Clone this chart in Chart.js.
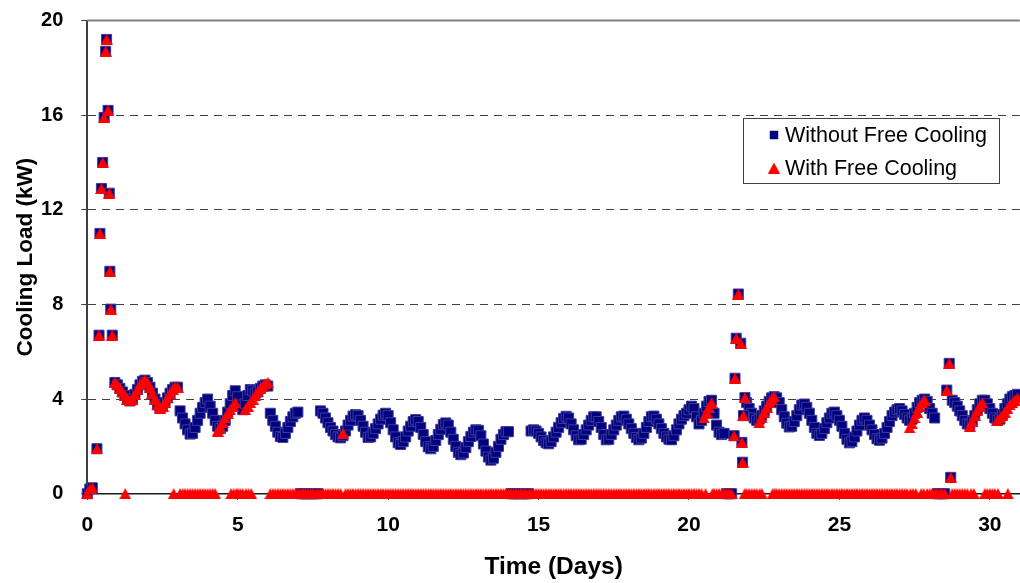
<!DOCTYPE html>
<html>
<head>
<meta charset="utf-8">
<script src="https://cdn.jsdelivr.net/npm/chart.js@4.4.1/dist/chart.umd.min.js"></script>
<style>
  html, body { margin: 0; padding: 0; background: #fff; overflow: hidden; }
  canvas { display: block; }
</style>
</head>
<body>
<canvas id="chart" width="1028" height="583"></canvas>
<script>
// ─── cooling load, 2-hourly samples from day 0 (null = no reading) ───
const STEP_DAYS = 1 / 12;

const withoutFreeCooling = [
  0, 0.2, 0.25, null, null, null, null, null, null, null, null, 4.7,           // day 0
  4.6, 4.45, 4.3, 4.15, 4.0, 3.92, 4.0, 4.2, 4.4, 4.6, 4.75, 4.8,               // 1
  4.7, 4.5, 4.25, 4.0, 3.75, 3.62, 3.7, 3.85, 4.05, 4.25, 4.4, 4.5,             // 2
  4.5, 3.5, 3.2, 2.95, 2.7, 2.52, 2.55, 2.8, 3.1, 3.4, 3.65, 3.85,              // 3
  4.0, 3.7, 3.4, 3.1, 2.85, 2.75, 2.85, 3.1, 3.45, 3.8, 4.15, 4.35,             // 4
  4.1, 3.75, 3.55, 3.8, 4.15, 4.4, 4.35, 4.25, 4.3, 4.45, 4.55, 4.6,            // 5
  4.55, 3.4, 3.1, 2.85, 2.6, 2.42, 2.38, 2.55, 2.8, 3.05, 3.25, 3.4,            // 6
  3.45, 0, 0, 0, 0, 0, 0, 0, 0, 3.5, 3.4, 3.2,                                  // 7
  3.0, 2.8, 2.65, 2.5, 2.4, 2.36, 2.45, 2.65, 2.9, 3.1, 3.28, 3.34,             // 8
  3.3, 3.1, 2.85, 2.6, 2.38, 2.4, 2.55, 2.75, 2.95, 3.15, 3.32, 3.4,            // 9
  3.3, 3.0, 2.7, 2.4, 2.15, 2.08, 2.2, 2.4, 2.65, 2.85, 3.05, 3.13,             // 10
  3.05, 2.8, 2.5, 2.2, 1.98, 1.9, 2.0, 2.25, 2.5, 2.72, 2.92, 2.99,             // 11
  2.9, 2.6, 2.3, 2.0, 1.75, 1.65, 1.72, 1.95, 2.2, 2.42, 2.6, 2.7,              // 12
  2.68, 2.45, 2.1, 1.8, 1.55, 1.42, 1.5, 1.75, 2.0, 2.3, 2.5, 2.62,             // 13
  2.62, 0, 0, 0, 0, 0, 0, 0, 0, 2.65, 2.7, 2.65,                                // 14
  2.55, 2.4, 2.25, 2.15, 2.11, 2.2, 2.4, 2.6, 2.8, 3.0, 3.18, 3.27,             // 15
  3.2, 2.95, 2.7, 2.45, 2.28, 2.3, 2.5, 2.7, 2.9, 3.1, 3.25, 3.25,              // 16
  3.05, 2.8, 2.5, 2.28, 2.3, 2.5, 2.7, 2.9, 3.1, 3.25, 3.28, 3.15,              // 17
  2.95, 2.75, 2.55, 2.38, 2.28, 2.35, 2.55, 2.8, 3.05, 3.25, 3.28, 3.15,        // 18
  2.95, 2.75, 2.55, 2.4, 2.3, 2.28, 2.45, 2.7, 2.95, 3.15, 3.3, 3.4,            // 19
  3.55, 3.7, 3.6, 3.25, 2.95, 3.1, 3.4, 3.7, 3.9, 3.95, 3.4, 2.9,               // 20
  2.6, 2.5, 2.55, 0, 0, 0, null, null, null, null, null, 3.85,                  // 21
  3.6, 3.4, 3.2, 3.1, 3.15, 3.3, 3.5, 3.7, 3.9, 4.05, 4.1, 4.05,                // 22
  3.85, 3.55, 3.25, 2.98, 2.82, 2.85, 3.05, 3.3, 3.55, 3.75, 3.79, 3.65,        // 23
  3.4, 3.1, 2.8, 2.55, 2.46, 2.55, 2.75, 3.0, 3.2, 3.4, 3.45, 3.3,              // 24
  3.1, 2.85, 2.55, 2.3, 2.15, 2.2, 2.4, 2.65, 2.9, 3.1, 3.2, 3.1,               // 25
  2.9, 2.7, 2.5, 2.32, 2.26, 2.35, 2.55, 2.8, 3.05, 3.3, 3.45, 3.55,            // 26
  3.6, 3.5, 3.35, 3.2, 3.1, 3.15, 3.4, 3.65, 3.85, 3.95, 4.0, 3.9,              // 27
  3.6, 3.4, 3.2, 0, 0, 0, 0, null, null, 3.95, 3.85, 3.7,                       // 28
  3.5, 3.3, 3.1, 2.95, 2.92, 3.05, 3.3, 3.55, 3.8, 3.95, 3.95, 3.8,             // 29
  3.6, 3.4, 3.2, 3.1, 3.15, 3.35, 3.6, 3.8, 4.0, 4.1, 4.15, 4.2                 // 30
];

const withFreeCooling = [
  0, 0.2, 0.25, null, null, null, null, null, null, null, null, 4.7,           // day 0
  4.6, 4.45, 4.3, 4.15, 4.0, 3.92, 4.0, 4.2, 4.4, 4.6, 4.75, 4.8,               // 1
  4.7, 4.5, 4.25, 4.0, 3.75, 3.62, 3.7, 3.85, 4.05, 4.25, 4.4, 4.5,             // 2
  4.5, 0, 0, 0, 0, 0, 0, 0, 0, 0, 0, 0,                                         // 3
  0, 0, 0, 0, 2.65, 2.8, 3.0, 3.2, 3.4, 3.55, 3.7, 3.85,                        // 4
  0, 0, 0, 3.55, 3.7, 3.85, 4.0, 4.15, 4.3, 4.45, 4.55, 4.65,                   // 5
  4.7, 0, 0, 0, 0, 0, 0, 0, 0, 0, 0, 0,                                         // 6
  0, 0, 0, 0, 0, 0, 0, 0, 0, 0, 0, 0,                                           // 7
  0, 0, 0, 0, 0, 0, 2.55, 0, 0, 0, 0, 0,                                        // 8
  0, 0, 0, 0, 0, 0, 0, 0, 0, 0, 0, 0,                                           // 9
  0, 0, 0, 0, 0, 0, 0, 0, 0, 0, 0, 0,                                           // 10
  0, 0, 0, 0, 0, 0, 0, 0, 0, 0, 0, 0,                                           // 11
  0, 0, 0, 0, 0, 0, 0, 0, 0, 0, 0, 0,                                           // 12
  0, 0, 0, 0, 0, 0, 0, 0, 0, 0, 0, 0,                                           // 13
  0, 0, 0, 0, 0, 0, 0, 0, 0, 0, 0, 0,                                           // 14
  0, 0, 0, 0, 0, 0, 0, 0, 0, 0, 0, 0,                                           // 15
  0, 0, 0, 0, 0, 0, 0, 0, 0, 0, 0, 0,                                           // 16
  0, 0, 0, 0, 0, 0, 0, 0, 0, 0, 0, 0,                                           // 17
  0, 0, 0, 0, 0, 0, 0, 0, 0, 0, 0, 0,                                           // 18
  0, 0, 0, 0, 0, 0, 0, 0, 0, 0, 0, 0,                                           // 19
  0, 0, 0, 0, 0, 0, 3.2, 3.45, 3.65, 3.85, 0, 0,                                // 20
  0, 0, 0, 0, 0, 0, null, null, null, null, null, 0,                            // 21
  0, 0, 0, 0, 3.0, 3.2, 3.45, 3.65, 3.85, 4.0, 4.1, 0,                          // 22
  0, 0, 0, 0, 0, 0, 0, 0, 0, 0, 0, 0,                                           // 23
  0, 0, 0, 0, 0, 0, 0, 0, 0, 0, 0, 0,                                           // 24
  0, 0, 0, 0, 0, 0, 0, 0, 0, 0, 0, 0,                                           // 25
  0, 0, 0, 0, 0, 0, 0, 0, 0, 0, 0, 0,                                           // 26
  0, 0, 0, 0, 2.78, 2.95, 3.2, 3.45, 3.7, 3.85, 3.95, 0,                        // 27
  0, 0, 0, 0, 0, 0, 0, null, null, 0, 0, 0,                                     // 28
  0, 0, 0, 0, 2.85, 3.05, 3.3, 3.5, 3.7, 3.85, 0, 0,                            // 29
  0, 0, 0, 3.1, 3.2, 3.3, 3.45, 3.6, 3.75, 3.85, 3.95, 4.05                     // 30
];

// hourly readings through the start-up peaks (both runs agree here)
const peakDays = [
  0.32, 0.39, 0.42, 0.47, 0.51, 0.56, 0.61, 0.64, 0.69, 0.73, 0.75, 0.78, 0.83,
  21.50, 21.53, 21.57, 21.64, 21.72, 21.76, 21.78, 21.81, 21.86,
  28.57, 28.65, 28.70
];
const peakWithout = [
  1.9, 6.7, 11.0, 12.9, 14.0, 15.9, 18.7, 19.2, 16.2, 12.7, 9.4, 7.8, 6.7,
  2.45, 4.88, 6.57, 8.44, 6.36, 2.17, 1.33, 3.3, 4.06,
  4.38, 5.51, 0.69
];
const peakWith = [
  1.9, 6.7, 11.0, 12.9, 14.0, 15.9, 18.7, 19.2, 16.2, 12.7, 9.4, 7.8, 6.7,
  2.45, 4.88, 6.57, 8.44, 6.36, 2.17, 1.33, 3.3, 4.06,
  4.38, 5.51, 0.69
];

// free-cooling hours (zero load) that fall between the 2-hourly samples
const freeCoolOffDays = [
  1.26, 2.87, 4.78, 4.86, 4.95, 5.27, 5.36, 5.45, 20.55, 20.78, 21.85, 22.35,
  22.42, 22.78, 22.85, 27.36, 27.45, 27.54, 27.72, 27.8, 29.38, 29.47, 30.27, 30.6
];
const freeCoolOffLoad = [
  0, 0, 0, 0, 0, 0, 0, 0, 0, 0, 0, 0,
  0, 0, 0, 0, 0, 0, 0, 0, 0, 0, 0, 0
];

const yTicks = [0, 4, 8, 12, 16, 20];

// ─── helpers ───

function gridPoints(values) {
  const pts = [];
  values.forEach((v, i) => {
    if (v !== null) pts.push({ x: i * STEP_DAYS, y: v });
  });
  return pts;
}

function pairPoints(days, loads) {
  return days.map((d, i) => ({ x: d, y: loads[i] }));
}

// triangle marker centred on its bounding box
function triangleMarker(w, h, color) {
  const c = document.createElement('canvas');
  c.width = w;
  c.height = h;
  const g = c.getContext('2d');
  g.fillStyle = color;
  g.beginPath();
  g.moveTo(w / 2, 0);
  g.lineTo(w, h);
  g.lineTo(0, h);
  g.closePath();
  g.fill();
  return c;
}

const FONT = "'Liberation Sans', Arial, Helvetica, sans-serif";
const NAVY = '#000080';
const RED = '#FF0000';
const redTriangle = triangleMarker(12, 11, RED);

// solid grey line across the top of the plot
const frameTop = {
  id: 'frameTop',
  beforeDatasetsDraw(chart) {
    const { ctx, chartArea: a } = chart;
    ctx.save();
    ctx.strokeStyle = '#808080';
    ctx.lineWidth = 2;
    ctx.beginPath();
    ctx.moveTo(a.left, a.top);
    ctx.lineTo(a.right, a.top);
    ctx.stroke();
    ctx.restore();
  },
};

// boxed legend inside the plot area
const boxedLegend = {
  id: 'boxedLegend',
  afterDraw(chart) {
    const { ctx } = chart;
    const box = { x: 743, y: 118, w: 256, h: 65 };
    ctx.save();
    ctx.fillStyle = '#fff';
    ctx.fillRect(box.x, box.y, box.w, box.h);
    ctx.strokeStyle = '#404040';
    ctx.lineWidth = 1;
    ctx.strokeRect(box.x + 0.5, box.y + 0.5, box.w, box.h);

    ctx.font = `21.5px ${FONT}`;
    ctx.textBaseline = 'middle';
    ctx.textAlign = 'left';
    [0, 1].forEach((di, row) => {
      const ds = chart.data.datasets[di];
      const cy = box.y + 17 + row * 33;
      ctx.fillStyle = ds.backgroundColor;
      ctx.strokeStyle = ds.borderColor;
      Chart.helpers.drawPoint(ctx, { pointStyle: ds.pointStyle, radius: 6, borderWidth: 0, rotation: 0 }, 774, cy);
      ctx.fillStyle = '#000';
      ctx.fillText(ds.label, 785, cy + 1);
    });
    ctx.restore();
  },
};

new Chart(document.getElementById('chart'), {
  type: 'scatter',
  data: {
    datasets: [
      {
        label: 'Without Free Cooling',
        data: gridPoints(withoutFreeCooling).concat(pairPoints(peakDays, peakWithout)),
        pointStyle: 'rect',
        pointRadius: 7.1,
        backgroundColor: NAVY,
        borderColor: '#3c3c98',
        borderWidth: 1,
        order: 2,
        clip: false,
      },
      {
        label: 'With Free Cooling',
        data: gridPoints(withFreeCooling)
          .concat(pairPoints(peakDays, peakWith))
          .concat(pairPoints(freeCoolOffDays, freeCoolOffLoad)),
        pointStyle: redTriangle,
        pointRadius: 6,
        backgroundColor: RED,
        borderColor: RED,
        borderWidth: 0,
        order: 1,
        clip: false,
      },
    ],
  },
  options: {
    responsive: false,
    animation: false,
    events: [],
    layout: { padding: { top: 20.5, right: 1, bottom: 0, left: 0 } },
    plugins: { legend: { display: false }, tooltip: { enabled: false } },
    scales: {
      x: {
        type: 'linear',
        min: 0,
        max: 31,
        afterFit: (s) => { s.height = 89.3; },
        border: { color: '#1a1a1a', width: 1.5 },
        grid: { drawOnChartArea: false, tickLength: 6, tickColor: '#1a1a1a' },
        ticks: {
          stepSize: 5,
          includeBounds: false,
          maxRotation: 0,
          color: '#000',
          padding: 13,
          font: { family: FONT, size: 21, weight: 'bold' },
        },
        title: {
          display: true,
          text: 'Time (Days)',
          color: '#000',
          font: { family: FONT, size: 24.5, weight: 'bold' },
          padding: { top: 0, bottom: 1 },
        },
      },
      y: {
        type: 'linear',
        min: 0,
        max: 20,
        // fixed axis width; label overhang is already covered by the layout padding
        afterFit: (s) => {
          s.width = 87.3;
          s.paddingTop = 0;
          s.paddingBottom = 0;
        },
        afterBuildTicks: (s) => { s.ticks = yTicks.map((v) => ({ value: v })); },
        border: { color: '#404040', width: 2, dash: [8, 6] },
        grid: {
          color: (c) => (c.tick && c.tick.value > 0 && c.tick.value < 20 ? '#404040' : 'rgba(0,0,0,0)'),
          lineWidth: 1,
          tickLength: 6,
          tickColor: '#404040',
        },
        ticks: {
          color: '#000',
          padding: 18,
          font: { family: FONT, size: 20, weight: 'bold' },
        },
        title: {
          display: true,
          text: 'Cooling Load (kW)',
          color: '#000',
          font: { family: FONT, size: 22.5, weight: 'bold' },
          padding: { top: 12, bottom: 0 },
        },
      },
    },
  },
  plugins: [frameTop, boxedLegend],
});
</script>
</body>
</html>
